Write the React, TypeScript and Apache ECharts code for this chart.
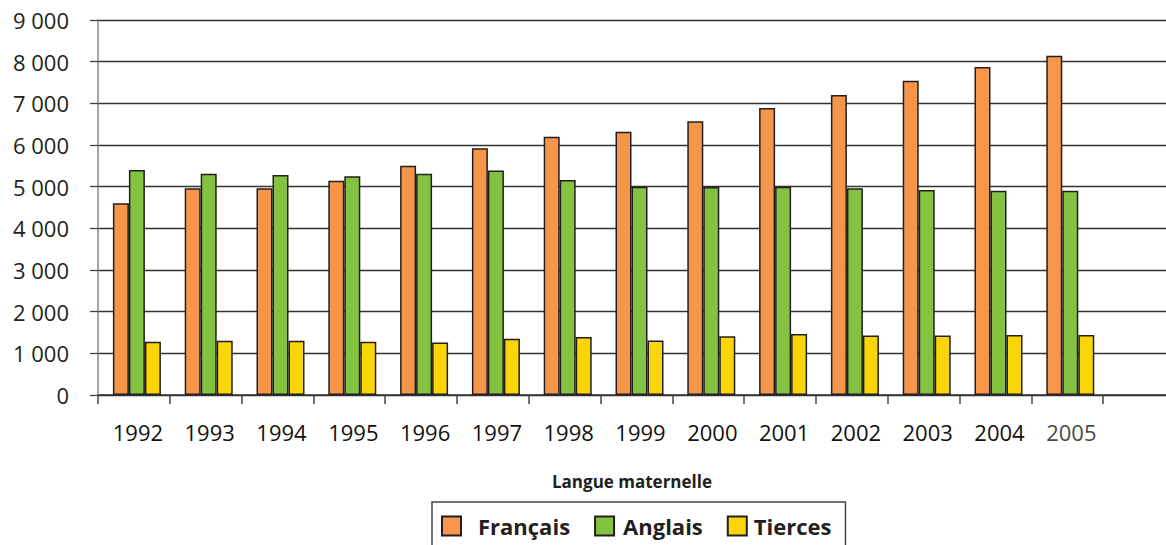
import React, { useEffect, useRef } from "react";
import * as echarts from "echarts";

const categories = ["1992", "1993", "1994", "1995", "1996", "1997", "1998", "1999", "2000", "2001", "2002", "2003", "2004", "2005"];
const francais = [4600, 4960, 4960, 5140, 5500, 5920, 6200, 6320, 6570, 6890, 7200, 7540, 7870, 8140];
const anglais = [5400, 5310, 5280, 5250, 5310, 5390, 5160, 5000, 4990, 5000, 4960, 4920, 4900, 4900];
const tierces = [1280, 1300, 1300, 1280, 1260, 1350, 1390, 1310, 1410, 1465, 1430, 1430, 1440, 1440];
const seriesNames = ["Français", "Anglais", "Tierces"];
const seriesColors = ["#F7954A", "#84C341", "#FAD608"];
const yMin = 0;
const yMax = 9000;
const yStep = 1000;
const axisTitle = "Langue maternelle";

const FONT = "'Open Sans', 'DejaVu Sans', sans-serif";
const INK = "#231f20";

export default function App() {
  const ref = useRef<HTMLDivElement>(null);

  useEffect(() => {
    document.body.style.margin = "0";
    if (!ref.current) return;
    const chart = echarts.init(ref.current, null, { renderer: "svg" });

    const axisCats = [...categories, ""];
    const xData = axisCats.map((c, i) =>
      i === categories.length - 1 ? { value: c, textStyle: { color: "#4a4a4a" } } : c
    );
    const values = [francais, anglais, tierces];

    const gridTop = 20;
    const gridHeight = 375;
    const gridLeft = 98;
    const gridWidth = 1077;
    const shift = 3;

    chart.setOption({
      animation: false,
      backgroundColor: "#ffffff",
      grid: [
        { left: gridLeft, top: gridTop, width: gridWidth, height: gridHeight, outerBoundsMode: "none", containLabel: false },
        { left: gridLeft + shift, top: gridTop, width: gridWidth, height: gridHeight, outerBoundsMode: "none", containLabel: false },
      ],
      xAxis: [
        {
          type: "category",
          gridIndex: 0,
          data: xData,
          boundaryGap: true,
          axisLine: { lineStyle: { color: "#333", width: 1.5 } },
          axisTick: { show: true, interval: 0, length: 9, lineStyle: { color: "#444", width: 1.5 } },
          axisLabel: {
            interval: 0,
            margin: 26,
            fontSize: 22,
            fontFamily: FONT,
            color: "#111",
            padding: [0, 0, 0, 8],
          },
        },
        {
          type: "category",
          gridIndex: 1,
          data: axisCats,
          boundaryGap: true,
          show: false,
        },
      ],
      yAxis: [
        {
          type: "value",
          gridIndex: 0,
          min: yMin,
          max: yMax,
          interval: yStep,
          axisLine: { show: true, lineStyle: { color: "#888", width: 1.5 } },
          axisTick: { show: true, length: 8, lineStyle: { color: "#444", width: 1.3 } },
          splitLine: { show: true, lineStyle: { color: "#333", width: 1.3 } },
          axisLabel: {
            margin: 29,
            fontSize: 22,
            fontFamily: FONT,
            color: INK,
            padding: [8, 0, 0, 0],
            formatter: (v: number) => (v === 0 ? "0" : `${Math.floor(v / 1000)} 000`),
          },
        },
        {
          type: "value",
          gridIndex: 1,
          min: yMin,
          max: yMax,
          interval: yStep,
          show: false,
          splitLine: { show: false },
        },
      ],
      legend: {
        left: 432,
        top: 502,
        orient: "horizontal",
        padding: [13, 14, 20, 9],
        borderColor: "#444",
        borderWidth: 1.5,
        itemWidth: 19,
        itemHeight: 19,
        itemGap: 24,
        icon: "rect",
        textStyle: { fontFamily: FONT, fontSize: 22, fontWeight: "bold", color: INK },
        data: [
          { name: seriesNames[0], textStyle: { padding: [0, 0, 0, 12] } },
          { name: seriesNames[1], textStyle: { padding: [0, 0, 0, 4] } },
          { name: seriesNames[2], textStyle: { padding: [0, 0, 0, 2] } },
        ],
      },
      graphic: [
        {
          type: "text",
          x: 632,
          y: 481,
          style: {
            text: axisTitle,
            fontSize: 17,
            fontWeight: "bold",
            fontFamily: FONT,
            fill: INK,
            align: "center",
            verticalAlign: "middle",
          },
        },
      ],
      series: seriesNames.map((name, i) => ({
        name,
        type: "bar",
        xAxisIndex: 1,
        yAxisIndex: 1,
        data: values[i],
        barWidth: 16,
        barGap: "0%",
        itemStyle: {
          color: seriesColors[i],
          borderColor: INK,
          borderWidth: 1.5,
        },
      })),
    });

    return () => chart.dispose();
  }, []);

  return <div ref={ref} style={{ width: 1166, height: 545 }} />;
}
